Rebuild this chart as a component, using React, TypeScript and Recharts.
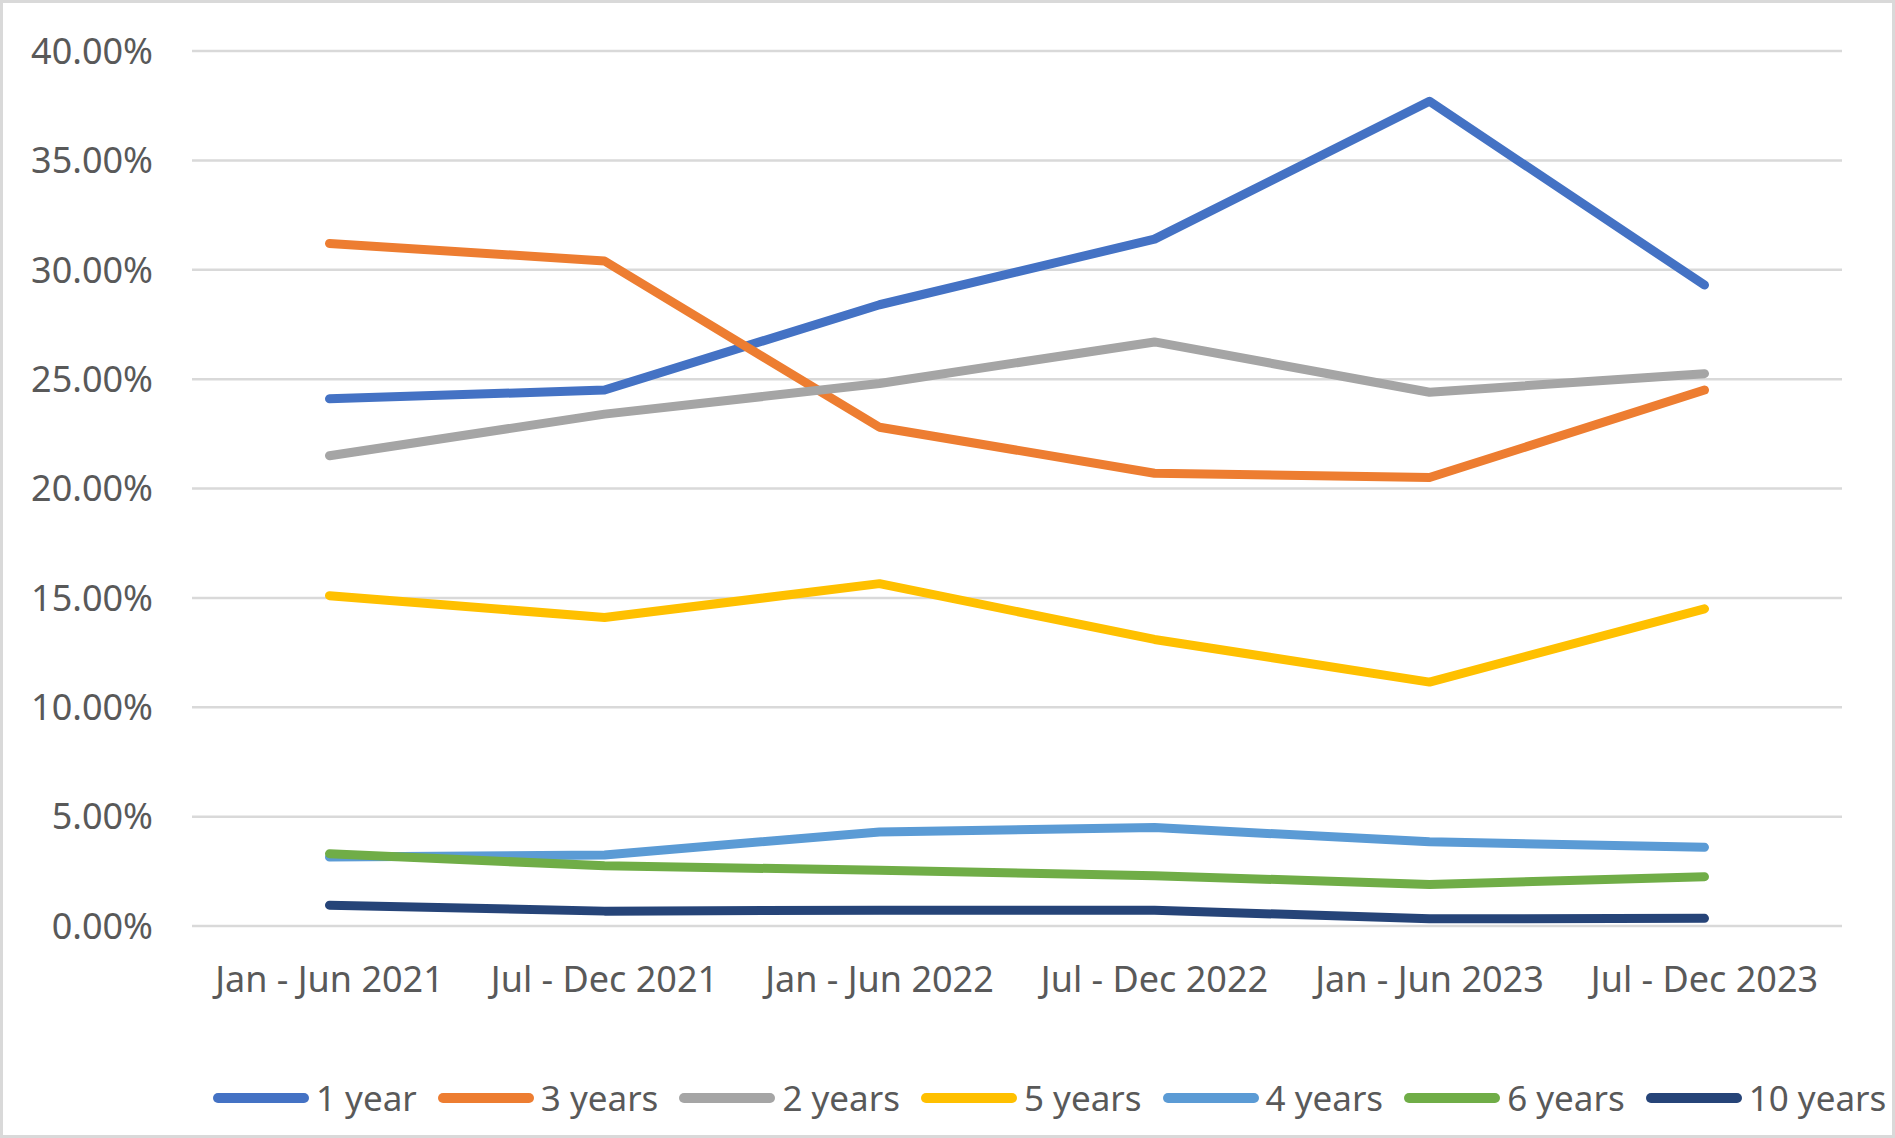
import React from "react";
import { LineChart, Line, XAxis, YAxis, CartesianGrid, Legend } from "recharts";

const periods = [
  "Jan - Jun 2021",
  "Jul - Dec 2021",
  "Jan - Jun 2022",
  "Jul - Dec 2022",
  "Jan - Jun 2023",
  "Jul - Dec 2023",
];

const oneYear = [24.1, 24.5, 28.4, 31.4, 37.7, 29.3];
const threeYears = [31.2, 30.4, 22.8, 20.7, 20.5, 24.5];
const twoYears = [21.5, 23.4, 24.8, 26.7, 24.4, 25.25];
const fiveYears = [15.1, 14.1, 15.65, 13.1, 11.15, 14.5];
const fourYears = [3.15, 3.25, 4.3, 4.5, 3.85, 3.6];
const sixYears = [3.3, 2.75, 2.55, 2.3, 1.9, 2.25];
const tenYears = [0.95, 0.68, 0.72, 0.72, 0.33, 0.35];

const yTicks = [0, 5, 10, 15, 20, 25, 30, 35, 40];

const series = [
  { key: "1 year", values: oneYear, color: "#4472C4" },
  { key: "3 years", values: threeYears, color: "#ED7D31" },
  { key: "2 years", values: twoYears, color: "#A5A5A5" },
  { key: "5 years", values: fiveYears, color: "#FFC000" },
  { key: "4 years", values: fourYears, color: "#5B9BD5" },
  { key: "6 years", values: sixYears, color: "#70AD47" },
  { key: "10 years", values: tenYears, color: "#264478" },
];

const data = periods.map((period, i) => {
  const row: Record<string, string | number> = { period };
  series.forEach((s) => (row[s.key] = s.values[i]));
  return row;
});

const FONT = '"Noto Sans", "Open Sans", sans-serif';
const TEXT = "#595959";

function LegendContent() {
  return (
    <div
      style={{
        display: "flex",
        alignItems: "center",
        whiteSpace: "nowrap",
        fontFamily: FONT,
        fontSize: 35,
        color: TEXT,
      }}
    >
      {series.map((s) => (
        <div key={s.key} style={{ display: "flex", alignItems: "center", flexShrink: 0, marginRight: 21 }}>
          <div style={{ width: 96, height: 10, borderRadius: 5, background: s.color, marginRight: 7, flexShrink: 0 }} />
          <span style={{ lineHeight: "44px" }}>{s.key}</span>
        </div>
      ))}
    </div>
  );
}

export default function App() {
  return (
    <div style={{ position: "absolute", left: 0, top: 0, width: 1895, height: 1138, background: "#fff" }}>
      <LineChart width={1895} height={1138} data={data} margin={{ top: 51, right: 53, bottom: 152, left: 0 }}>
        <CartesianGrid vertical={false} stroke="#D9D9D9" strokeWidth={2.5} />
        <XAxis
          dataKey="period"
          scale="band"
          axisLine={false}
          tickLine={false}
          tickSize={0}
          tickMargin={40}
          height={60}
          interval={0}
          tick={{ fill: TEXT, fontSize: 36, fontFamily: FONT }}
        />
        <YAxis
          domain={[0, 40]}
          ticks={yTicks}
          width={192}
          axisLine={false}
          tickLine={false}
          tickSize={0}
          tickMargin={39}
          tickFormatter={(v: number) => `${v.toFixed(2)}%`}
          tick={{ fill: TEXT, fontSize: 36, fontFamily: FONT }}
        />
        <Legend
          verticalAlign="middle"
          layout="horizontal"
          align="center"
          content={<LegendContent />}
          wrapperStyle={{ top: 1076, left: 213, width: 1680 }}
        />
        {series.map((s) => (
          <Line
            key={s.key}
            dataKey={s.key}
            stroke={s.color}
            strokeWidth={9}
            strokeLinecap="round"
            strokeLinejoin="round"
            dot={false}
            activeDot={false}
            isAnimationActive={false}
          />
        ))}
      </LineChart>
      <div
        style={{
          position: "absolute",
          inset: 0,
          border: "3px solid #D9D9D9",
          pointerEvents: "none",
        }}
      />
    </div>
  );
}
